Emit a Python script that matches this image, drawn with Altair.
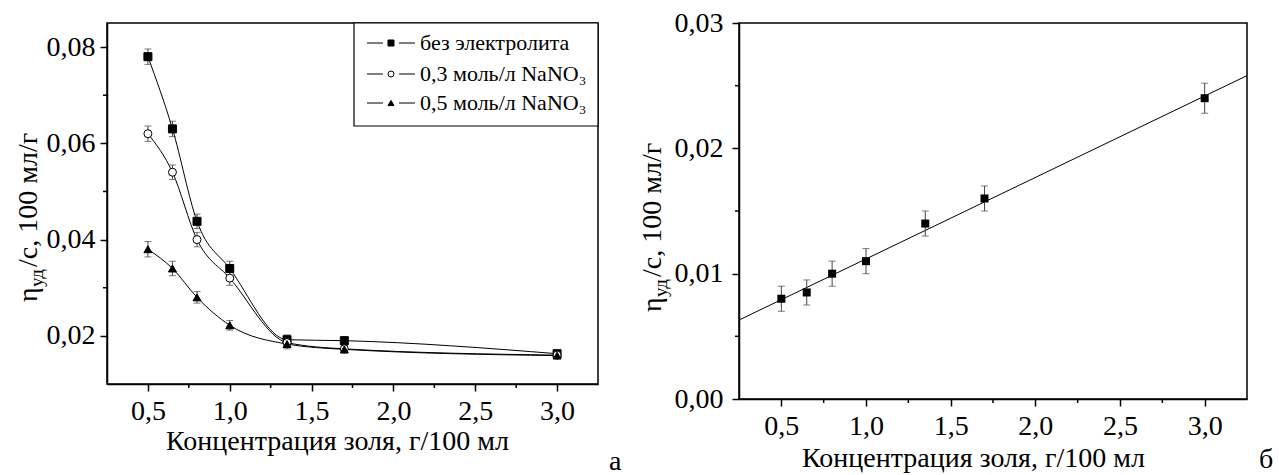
import altair as alt
import pandas as pd

FONT = "Liberation Serif"

# ---------------- data ----------------
conc = [0.5, 0.65, 0.8, 1.0, 1.35, 1.7, 3.0]
series = ["без электролита", "0,3 моль/л NaNO₃", "0,5 моль/л NaNO₃"]
eta_none = [0.078, 0.063, 0.0438, 0.034, 0.0192, 0.0190, 0.0163]
eta_03 = [0.062, 0.054, 0.040, 0.032, 0.0186, 0.0173, 0.0160]
eta_05 = [0.038, 0.034, 0.028, 0.0222, 0.0183, 0.0172, 0.0159]
err_none = [0.0016, 0.0016, 0.0015, 0.0015, 0.0010, 0.0008, 0.0006]
err_03 = [0.0016, 0.0015, 0.0015, 0.0015, 0.0010, 0.0008, 0.0006]
err_05 = [0.0016, 0.0015, 0.0012, 0.0010, 0.0010, 0.0008, 0.0006]

eta_b = [0.008, 0.0085, 0.010, 0.011, 0.014, 0.016, 0.024]
err_b = [0.001, 0.001, 0.001, 0.001, 0.001, 0.001, 0.0012]
fit_x = [0.25, 3.25]
fit_y = [0.0063, 0.0258]

x_major = [0.5, 1.0, 1.5, 2.0, 2.5, 3.0]
x_minor = [0.75, 1.25, 1.75, 2.25, 2.75]
ya_major = [0.02, 0.04, 0.06, 0.08]
ya_minor = [0.03, 0.05, 0.07]
yb_major = [0.0, 0.01, 0.02, 0.03]
yb_minor = [0.005, 0.015, 0.025]

# ---------------- layout ----------------
WA, HA = 491, 361
WB, HB = 508, 376

x_scale = alt.Scale(domain=[0.25, 3.25], nice=False, zero=False)
ya_scale = alt.Scale(domain=[0.01, 0.085], nice=False, zero=False)
yb_scale = alt.Scale(domain=[0.0, 0.03], nice=False, zero=False)

one = pd.DataFrame({"k": [0]})

X_LABEL = "replace(format(datum.value, '.1f'), '.', ',')"
Y_LABEL = "replace(format(datum.value, '.2f'), '.', ',')"


def x_axis(tx, ty):
    return alt.Axis(values=x_major, labelExpr=X_LABEL, labelPadding=6,
                    title="Концентрация золя, г/100 мл", titleX=tx, titleY=ty,
                    titleBaseline="alphabetic", titleAlign="center")


def y_axis(values, pad):
    return alt.Axis(values=values, labelExpr=Y_LABEL, labelPadding=pad, title=None)


def minor_ticks_x(H):
    return alt.Chart(pd.DataFrame({"c": x_minor})).mark_rule(color="black", strokeWidth=1.5).encode(
        x=alt.X("c:Q", scale=x_scale), y=alt.value(H), y2=alt.value(H + 4))


def minor_ticks_y(vals, scale):
    return alt.Chart(pd.DataFrame({"v": vals})).mark_rule(color="black", strokeWidth=1.5).encode(
        y=alt.Y("v:Q", scale=scale), x=alt.value(0), x2=alt.value(-4))


def y_title(xb, ys):
    t1 = alt.Chart(one).mark_text(text="η", angle=270, align="left", baseline="alphabetic",
                                  font=FONT, fontSize=28, color="black").encode(
        x=alt.value(xb), y=alt.value(ys))
    t2 = alt.Chart(one).mark_text(text="уд", angle=270, align="left", baseline="alphabetic",
                                  font=FONT, fontSize=19, color="black").encode(
        x=alt.value(xb + 6), y=alt.value(ys - 15))
    t3 = alt.Chart(one).mark_text(text="/с, 100 мл/г", angle=270, align="left", baseline="alphabetic",
                                  font=FONT, fontSize=28, color="black").encode(
        x=alt.value(xb), y=alt.value(ys - 35))
    return [t1, t2, t3]


def panel_letter(letter, x, y):
    return alt.Chart(one).mark_text(text=letter, align="left", baseline="alphabetic",
                                    font=FONT, fontSize=28, color="black").encode(
        x=alt.value(x), y=alt.value(y))


# ---------------- panel a ----------------
rows = []
for name, vals, errs in zip(series, [eta_none, eta_03, eta_05], [err_none, err_03, err_05]):
    for c, v, e in zip(conc, vals, errs):
        rows.append({"c": c, "eta": v, "lo": v - e, "hi": v + e, "series": name})
df_a = pd.DataFrame(rows)
base_a = alt.Chart(df_a)

lines_a = base_a.mark_line(interpolate="monotone", color="black", strokeWidth=1).encode(
    x=alt.X("c:Q", scale=x_scale, axis=x_axis(230, 65)),
    y=alt.Y("eta:Q", scale=ya_scale, axis=y_axis(ya_major, 5)),
    detail="series:N")
err_a = base_a.mark_errorbar(ticks=True, size=7, thickness=1, color="#444").encode(
    x=alt.X("c:Q", scale=x_scale),
    y=alt.Y("lo:Q", scale=ya_scale, title=None), y2="hi:Q")
pts_a = base_a.mark_point(filled=True, stroke="black", strokeWidth=1, opacity=1).encode(
    x=alt.X("c:Q", scale=x_scale),
    y=alt.Y("eta:Q", scale=ya_scale),
    shape=alt.Shape("series:N", scale=alt.Scale(domain=series, range=["square", "circle", "triangle-up"]), legend=None),
    fill=alt.Fill("series:N", scale=alt.Scale(domain=series, range=["black", "white", "black"]), legend=None),
    size=alt.Size("series:N", scale=alt.Scale(domain=series, range=[64, 64, 90]), legend=None))

# custom legend (line - marker - line)
legend_layers = [alt.Chart(one).mark_rect(fill="white", stroke="black", strokeWidth=1.2).encode(
    x=alt.value(247), x2=alt.value(WA), y=alt.value(0), y2=alt.value(103))]
leg_y = [20, 51, 80]
leg_shape = ["square", "circle", "triangle-up"]
leg_fill = ["black", "white", "black"]
for name, yy, shp, fl in zip(series, leg_y, leg_shape, leg_fill):
    legend_layers.append(alt.Chart(one).mark_rule(color="black", strokeWidth=1).encode(
        x=alt.value(260), x2=alt.value(276), y=alt.value(yy)))
    legend_layers.append(alt.Chart(one).mark_rule(color="black", strokeWidth=1).encode(
        x=alt.value(292), x2=alt.value(308), y=alt.value(yy)))
    legend_layers.append(alt.Chart(one).mark_point(shape=shp, filled=True, fill=fl, stroke="black",
                                                   strokeWidth=1, size=36, opacity=1).encode(
        x=alt.value(284), y=alt.value(yy)))
    legend_layers.append(alt.Chart(one).mark_text(text=name, align="left", baseline="middle",
                                                  font=FONT, fontSize=22, color="black").encode(
        x=alt.value(313), y=alt.value(yy)))

left = alt.layer(
    lines_a, err_a, pts_a,
    minor_ticks_x(HA), minor_ticks_y(ya_minor, ya_scale),
    *legend_layers,
    *y_title(-70, 279),
    panel_letter("а", 502, 447),
).properties(width=WA, height=HA)

# ---------------- panel b ----------------
df_b = pd.DataFrame({"c": conc, "eta": eta_b,
                     "lo": [v - e for v, e in zip(eta_b, err_b)],
                     "hi": [v + e for v, e in zip(eta_b, err_b)]})
df_fit = pd.DataFrame({"c": fit_x, "eta": fit_y})

fit_b = alt.Chart(df_fit).mark_line(color="black", strokeWidth=1).encode(
    x=alt.X("c:Q", scale=x_scale, axis=x_axis(234, 67)),
    y=alt.Y("eta:Q", scale=yb_scale, axis=y_axis(yb_major, 9)))
err_b_ch = alt.Chart(df_b).mark_errorbar(ticks=True, size=7, thickness=1, color="#444").encode(
    x=alt.X("c:Q", scale=x_scale),
    y=alt.Y("lo:Q", scale=yb_scale, title=None), y2="hi:Q")
pts_b = alt.Chart(df_b).mark_point(shape="square", filled=True, color="black", size=64, opacity=1).encode(
    x=alt.X("c:Q", scale=x_scale), y=alt.Y("eta:Q", scale=yb_scale))

right = alt.layer(
    fit_b, err_b_ch, pts_b,
    minor_ticks_x(HB), minor_ticks_y(yb_minor, yb_scale),
    *y_title(-78, 289),
    panel_letter("б", 520, 445),
).properties(width=WB, height=HB)

chart = alt.hconcat(left, right, spacing=141, bounds="flush").properties(
    padding={"left": 14, "top": 8, "right": 0, "bottom": 0},
    background="white",
).configure_view(
    stroke="black", strokeWidth=1.5
).configure_axis(
    domainColor="black", domainWidth=1.5, tickColor="black", tickWidth=1.5, tickSize=7,
    labelFont=FONT, labelFontSize=28, labelColor="black", labelOverlap=False,
    titleFont=FONT, titleFontSize=28, titleFontWeight="normal", titleColor="black",
    grid=False,
)

chart.save("out.html", embed_options={"renderer": "svg", "actions": False})
